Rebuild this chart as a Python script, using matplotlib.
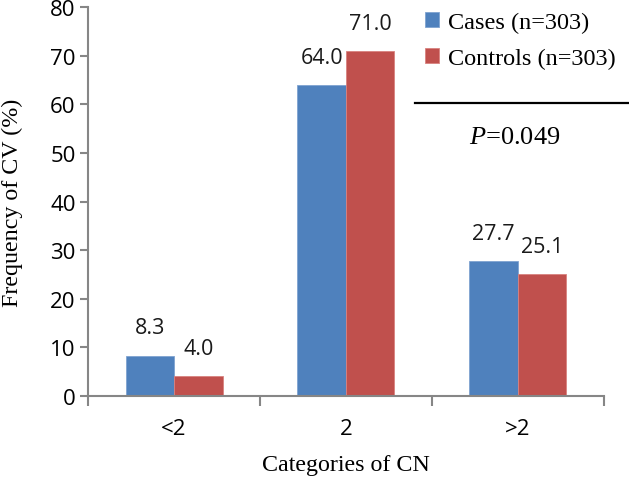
import numpy as np
import matplotlib
matplotlib.use("Agg")
import matplotlib.pyplot as plt
from matplotlib.lines import Line2D

# ==========================================
# data
# ==========================================
categories = ['<2', '2', '>2']
cases = [8.3, 64.0, 27.7]
controls = [4.0, 71.0, 25.1]
series_names = ['Cases (n=303)', 'Controls (n=303)']
p_text = '$P$=0.049'

BLUE = '#4F81BD'
RED = '#C0504D'
AXIS_GRAY = '#868686'
SANS = ['Open Sans', 'DejaVu Sans']
SERIF = ['Liberation Serif', 'DejaVu Serif']

plt.rcParams['mathtext.fontset'] = 'custom'
plt.rcParams['mathtext.it'] = 'Liberation Serif:italic'
plt.rcParams['mathtext.rm'] = 'Liberation Serif'

fig = plt.figure(figsize=(6.29, 4.81), dpi=100)
ax = fig.add_axes([0.140, 0.175, 0.820, 0.808])

x = np.arange(len(categories))
w = 0.282
b1 = ax.bar(x - w / 2, cases, w, color=BLUE, edgecolor='#7FA3D0', linewidth=0.6, label=series_names[0])
b2 = ax.bar(x + w / 2, controls, w, color=RED, edgecolor='#D9827F', linewidth=0.6, label=series_names[1])

# value labels above each bar
for bars, vals in ((b1, cases), (b2, controls)):
    for rect, v in zip(bars, vals):
        ax.annotate(f'{v:.1f}', (rect.get_x() + rect.get_width() / 2, v),
                    xytext=(0, 20), textcoords='offset points',
                    ha='center', va='center', fontsize=15.5, family=SANS, color='#1a1a1a')

ax.set_xlim(-0.5, len(categories) - 0.5)
ax.set_ylim(0, 80)
ax.set_yticks(np.arange(0, 81, 10))
ax.set_yticklabels([str(v) for v in range(0, 81, 10)], family=SANS, fontsize=16)

# excel style category axis: ticks at the boundaries, labels at centres
ax.set_xticks(np.arange(-0.5, len(categories)), minor=False)
ax.set_xticklabels([])
ax.set_xticks(x, minor=True)
ax.set_xticklabels(categories, minor=True, family=SANS, fontsize=16)
ax.tick_params(axis='x', which='minor', length=0, pad=16)
ax.tick_params(axis='x', which='major', length=7, width=1.5, color=AXIS_GRAY, direction='out')
ax.tick_params(axis='y', length=6, width=1.5, color=AXIS_GRAY, direction='out', pad=3)

for s in ('top', 'right'):
    ax.spines[s].set_visible(False)
for s in ('left', 'bottom'):
    ax.spines[s].set_color(AXIS_GRAY)
    ax.spines[s].set_linewidth(1.5)

ax.set_xlabel('Categories of CN', family=SERIF, fontsize=17.3, labelpad=11)
ax.set_ylabel('Frequency of CV (%)', family=SERIF, fontsize=17.3)
ax.yaxis.set_label_coords(-0.126, 0.5)

leg = ax.legend(loc='upper left', bbox_to_anchor=(0.61, 1.045), frameon=False,
                prop={'family': SERIF, 'size': 17.5}, handlelength=0.6, handleheight=0.6,
                handletextpad=0.35, labelspacing=0.62)

# separator line and p value
ax.add_line(Line2D([0.634, 1.05], [0.753, 0.753], transform=ax.transAxes,
                   color='black', linewidth=1.6, clip_on=False))
ax.text(0.827, 0.666, p_text, transform=ax.transAxes, ha='center', va='center',
        family=SERIF, fontsize=19)

fig.savefig('out.png', dpi=100)
